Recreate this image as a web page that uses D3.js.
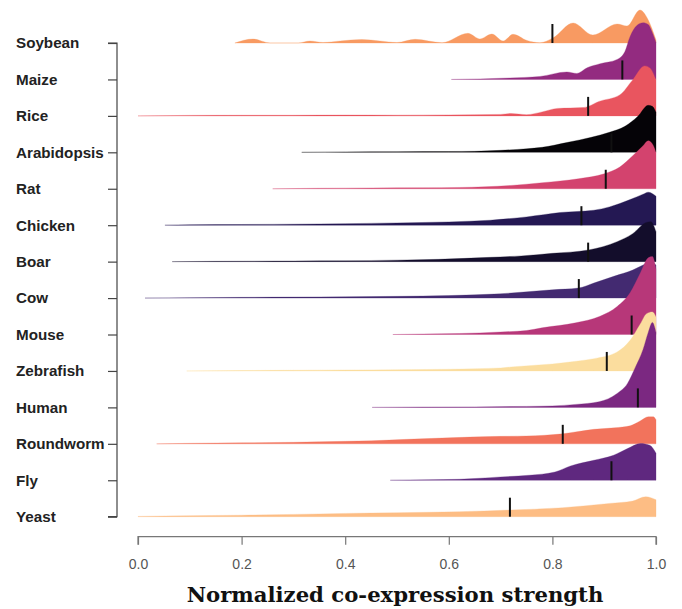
<!DOCTYPE html>
<html>
<head>
<meta charset="utf-8">
<script src="https://cdn.jsdelivr.net/npm/d3@7"></script>
<style>
  html, body { margin: 0; padding: 0; background: #fff; }
  svg { display: block; }
</style>
</head>
<body>
<svg id="chart" width="682" height="609"></svg>
<script>
// ---- data ----
const species = ["Soybean","Maize","Rice","Arabidopsis","Rat","Chicken","Boar","Cow","Mouse","Zebrafish","Human","Roundworm","Fly","Yeast"];
const colors  = ["#F89A62","#932B80","#E9555F","#050307","#D3436E","#241853","#130D2B","#432A71","#B73779","#FBDD9E","#7B2881","#F2735C","#5F287F","#FDBD84"];
const medians = [0.80,0.935,0.869,0.914,0.903,0.856,0.869,0.851,0.953,0.905,0.965,0.82,0.914,0.718];
const xTicks  = [0.0,0.2,0.4,0.6,0.8,1.0];

// density curves: [value, relative density]
const soybean = [[0.187,0],[0.222,0.4],[0.255,0],[0.309,0],[0.332,0.2],[0.357,0.05],[0.39,0.2],[0.432,0.35],[0.467,0.2],[0.5,0.05],[0.535,0.37],[0.587,0.03],[0.637,0.97],[0.66,0.4],[0.683,0.9],[0.705,0.2],[0.724,0.87],[0.751,0.25],[0.776,0.03],[0.801,0.5],[0.84,2.0],[0.878,0.8],[0.925,1.9],[0.944,1.7],[0.969,3.3],[0.985,2.3],[1.0,0.3]];
const maize = [[0.605,0],[0.66,0.05],[0.718,0.15],[0.776,0.3],[0.828,0.75],[0.847,0.6],[0.867,1.17],[0.892,1.57],[0.925,2.0],[0.94,2.8],[0.95,4.3],[0.963,5.4],[0.975,5.67],[0.985,5.5],[0.992,4.8],[1.0,3.7]];
const rice = [[0.0,0],[0.1,0.05],[0.2,0.06],[0.3,0.06],[0.4,0.08],[0.5,0.07],[0.6,0.1],[0.7,0.15],[0.72,0.23],[0.75,0.12],[0.78,0.4],[0.81,0.75],[0.86,0.83],[0.89,1.45],[0.93,2.1],[0.955,3.6],[0.978,5.0],[0.988,4.8],[1.0,3.6]];
const arabidopsis = [[0.316,0],[0.4,0.04],[0.5,0.06],[0.6,0.08],[0.65,0.1],[0.7,0.2],[0.75,0.35],[0.78,0.5],[0.83,1.0],[0.875,1.5],[0.91,2.0],[0.94,2.6],[0.965,3.6],[0.985,4.7],[0.993,4.6],[1.0,4.0]];
const rat = [[0.26,0],[0.35,0.05],[0.45,0.08],[0.55,0.1],[0.62,0.13],[0.72,0.33],[0.78,0.6],[0.85,1.0],[0.9,1.5],[0.93,2.17],[0.955,3.3],[0.975,4.3],[0.985,4.8],[0.995,4.3],[1.0,3.6]];
const chicken = [[0.052,0],[0.1,0.04],[0.2,0.07],[0.3,0.1],[0.4,0.15],[0.5,0.23],[0.6,0.33],[0.68,0.5],[0.75,0.83],[0.815,1.27],[0.88,1.5],[0.91,1.83],[0.93,2.17],[0.955,2.67],[0.975,3.1],[0.985,3.3],[1.0,2.9]];
const boar = [[0.066,0],[0.15,0.03],[0.3,0.06],[0.4,0.08],[0.5,0.15],[0.58,0.23],[0.68,0.43],[0.74,0.57],[0.8,0.83],[0.87,1.17],[0.925,2.0],[0.955,2.8],[0.98,3.9],[0.99,4.0],[1.0,3.0]];
const cow = [[0.0135,0],[0.1,0.04],[0.2,0.07],[0.3,0.1],[0.4,0.13],[0.5,0.17],[0.6,0.25],[0.7,0.43],[0.8,0.83],[0.85,1.0],[0.88,1.5],[0.92,2.2],[0.955,2.8],[0.975,3.3],[0.99,3.6],[1.0,3.3]];
const mouse = [[0.492,0],[0.55,0.05],[0.62,0.1],[0.7,0.25],[0.75,0.4],[0.78,0.67],[0.845,1.17],[0.892,1.83],[0.925,2.8],[0.95,4.17],[0.97,6.17],[0.985,7.67],[0.993,7.8],[1.0,6.5]];
const zebrafish = [[0.094,0],[0.2,0.04],[0.3,0.07],[0.4,0.1],[0.5,0.13],[0.6,0.17],[0.7,0.3],[0.72,0.4],[0.8,0.7],[0.85,1.0],[0.88,1.23],[0.925,1.9],[0.95,3.07],[0.97,4.73],[0.982,5.73],[0.993,5.9],[1.0,5.4]];
const human = [[0.452,0],[0.55,0.03],[0.65,0.05],[0.75,0.1],[0.8,0.15],[0.845,0.3],[0.89,0.57],[0.925,1.4],[0.945,2.4],[0.96,4.0],[0.975,5.8],[0.985,7.5],[0.993,8.5],[1.0,7.5]];
const roundworm = [[0.036,0],[0.1,0.05],[0.2,0.1],[0.3,0.15],[0.35,0.2],[0.4,0.25],[0.45,0.3],[0.52,0.45],[0.6,0.6],[0.68,0.73],[0.75,0.78],[0.82,1.0],[0.88,1.45],[0.92,1.6],[0.95,1.8],[0.97,2.3],[0.985,2.7],[0.995,2.7],[1.0,2.4]];
const fly = [[0.487,0],[0.56,0.05],[0.62,0.1],[0.66,0.2],[0.7,0.33],[0.755,0.5],[0.805,0.83],[0.835,1.43],[0.88,2.0],[0.918,2.5],[0.945,3.17],[0.97,3.67],[0.988,3.5],[1.0,2.7]];
const yeast = [[0.0,0.03],[0.1,0.1],[0.2,0.15],[0.3,0.23],[0.4,0.33],[0.5,0.4],[0.62,0.5],[0.72,0.67],[0.82,0.9],[0.91,1.33],[0.955,1.57],[0.98,2.0],[0.99,1.9],[1.0,1.7]];

const curves = [soybean,maize,rice,arabidopsis,rat,chicken,boar,cow,mouse,zebrafish,human,roundworm,fly,yeast];

// ---- layout ----
const svg = d3.select("#chart");
const x = d3.scaleLinear().domain([0, 1]).range([138, 656]);
const y = d3.scalePoint().domain(species).range([43, 516.7]);
const h = d3.scaleLinear().domain([0, 1]).range([0, 10]);
const medianLen = 19;

// ridges, drawn top to bottom so lower ridges overlap upper ones
species.forEach((s, i) => {
  const base = y(s);
  const data = curves[i];
  const area = d3.area()
    .x(d => x(d[0]))
    .y0(base)
    .y1(d => base - h(d[1]))
    .curve(d3.curveMonotoneX);
  const g = svg.append("g");
  g.append("path")
    .attr("d", area(data))
    .attr("fill", colors[i])
    .attr("stroke", colors[i])
    .attr("stroke-width", 0.5)
    .attr("stroke-opacity", 0.6);
  g.append("line")
    .attr("x1", x(medians[i])).attr("x2", x(medians[i]))
    .attr("y1", base).attr("y2", base - medianLen)
    .attr("stroke", "#111").attr("stroke-width", 2);
});

// y axis
const yAxis = d3.axisLeft(y).tickSize(9).tickFormat("");
const ya = svg.append("g").attr("transform", "translate(117,0)").call(yAxis);
ya.select(".domain").attr("d", `M-9,${y(species[0])}H0V${y(species[species.length-1])}H-9`);
ya.selectAll("path, line").attr("stroke", "#444").attr("stroke-width", 1.2);

svg.append("g").selectAll("text").data(species).join("text")
  .attr("x", 16)
  .attr("y", d => y(d))
  .attr("dy", "0.35em")
  .attr("font-family", "'Liberation Sans', Arial, sans-serif")
  .attr("font-weight", "bold")
  .attr("font-size", 15.2)
  .attr("fill", "#222")
  .text(d => d);

// x axis
const xAxis = d3.axisBottom(x).tickValues(xTicks).tickSize(8).tickSizeOuter(8).tickPadding(14)
  .tickFormat(d3.format(".1f"));
const xa = svg.append("g").attr("transform", "translate(0,536.7)").call(xAxis);
xa.selectAll("path, line").attr("stroke", "#777").attr("stroke-width", 1.2);
xa.select(".domain").attr("d", `M${x(0)},8V0H${x(1)}V8`);
xa.selectAll("text")
  .attr("font-family", "'Liberation Sans', Arial, sans-serif")
  .attr("font-size", 14)
  .attr("fill", "#555");

svg.append("text")
  .attr("x", 395)
  .attr("y", 602)
  .attr("text-anchor", "middle")
  .attr("font-family", "'DejaVu Serif', serif")
  .attr("font-weight", "bold")
  .attr("font-size", 21.2)
  .attr("fill", "#111")
  .text("Normalized co-expression strength");
</script>
</body>
</html>
